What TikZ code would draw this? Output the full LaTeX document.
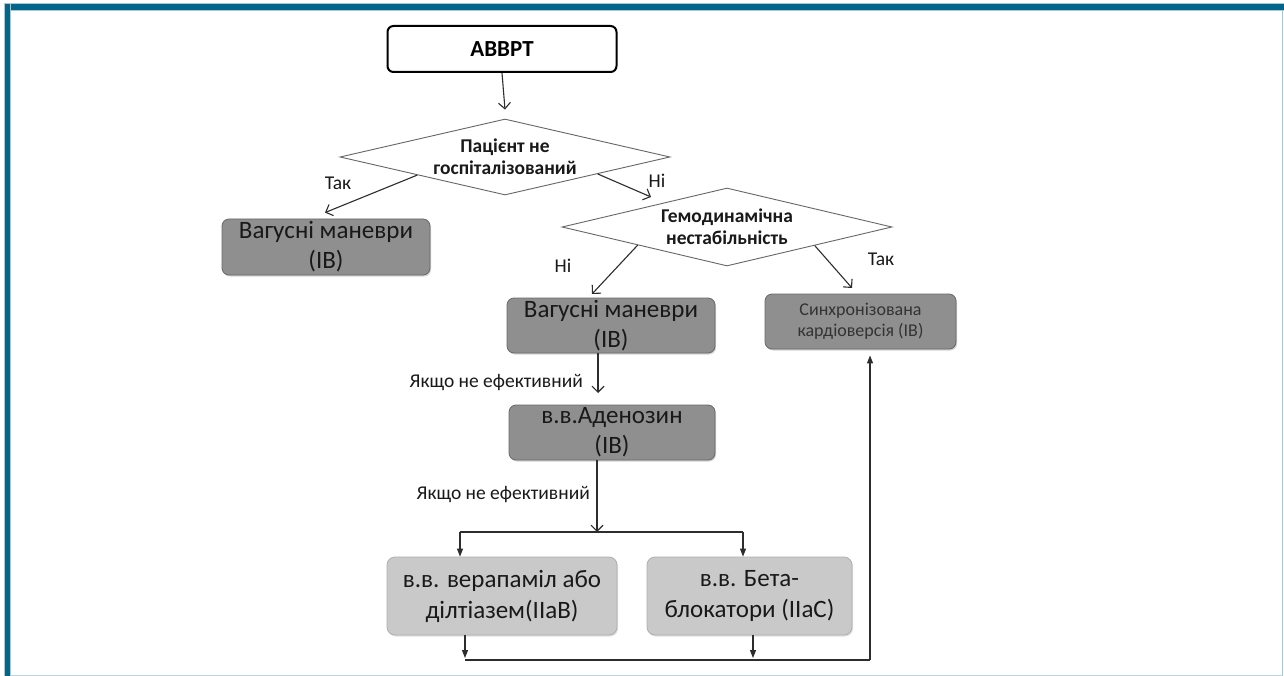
\documentclass[tikz,border=0pt]{standalone}
\usepackage{fontspec}
\setmainfont{Carlito}
\usetikzlibrary{shapes.geometric,arrows.meta,shadows,calc}

\definecolor{frameteal}{RGB}{0,102,139}
\definecolor{frameedge}{RGB}{170,200,210}
\definecolor{boxdark}{RGB}{143,143,143}
\definecolor{boxdarkline}{RGB}{105,105,105}
\definecolor{boxlight}{RGB}{201,201,201}
\definecolor{boxlightline}{RGB}{175,175,175}
\definecolor{inkline}{RGB}{45,45,45}
\definecolor{inktext}{RGB}{25,25,25}

\tikzset{
  startbox/.style={draw=black, line width=2pt, rounded corners=6pt, fill=white,
    minimum width=229pt, minimum height=46pt, inner sep=0pt,
    font=\fontsize{23}{26}\selectfont\bfseries},
  decision/.style={diamond, aspect=4.3, draw=black!60, line width=0.9pt, fill=white,
    inner sep=0pt, align=center, text=inktext,
    font=\fontsize{19.5}{22}\selectfont\bfseries},
  darkbox/.style={rounded corners=7pt, fill=boxdark, draw=boxdarkline, line width=0.8pt,
    drop shadow={shadow xshift=1pt, shadow yshift=-1.5pt, opacity=0.35},
    inner sep=0pt, align=center, text=inktext,
    font=\fontsize{25}{30}\selectfont},
  lightbox/.style={rounded corners=8pt, fill=boxlight, draw=boxlightline, line width=0.8pt,
    drop shadow={shadow xshift=1pt, shadow yshift=-1.5pt, opacity=0.25},
    inner sep=0pt, align=center, text=inktext,
    font=\fontsize{25}{31}\selectfont},
  smallbox/.style={darkbox, font=\fontsize{18}{21}\selectfont, text=black!80},
  flow/.style={draw=inkline, line width=1.1pt},
  openarrow/.style={flow, -{Straight Barb[length=6pt,width=12pt,line width=1.1pt]}},
  fillarrow/.style={flow, -{Triangle[length=8pt,width=6pt]}},
  lbl/.style={font=\fontsize{19.5}{22}\selectfont, text=inktext, inner sep=0pt},
}

\begin{document}
\begin{tikzpicture}[x=1pt, y=-1pt]
  \useasboundingbox (0,0) rectangle (1284,676);

  % page frame
  \fill[white] (0,0) rectangle (1284,676);
  \draw[frameedge, line width=1pt] (1282,10) -- (1282,676);
  \draw[frameedge!80!white, line width=1pt] (10,675) -- (1282,675);
  \fill[frameedge] (3.5,3.5) rectangle (1284,11);
  \fill[frameteal] (4.5,4.5) rectangle (1284,10.5);
  \fill[frameedge] (3.5,3.5) rectangle (11,676);
  \fill[frameteal] (4.5,4.5) rectangle (10.3,676);

  % nodes
  \node[startbox] (start) at (502,49) {АВВРТ};
  \node[decision, minimum width=330pt, minimum height=76pt] (d1) at (505,157)
    {Пацієнт не\\госпіталізований};
  \node[decision, minimum width=330pt, minimum height=78pt] (d2) at (727,227)
    {Гемодинамічна\\нестабільність};
  \node[darkbox, minimum width=208pt, minimum height=56pt] (vag1) at (326,247)
    {Вагусні маневри\\(IB)};
  \node[darkbox, minimum width=208pt, minimum height=55pt] (vag2) at (611,325.5)
    {Вагусні маневри\\(IB)};
  \node[smallbox, minimum width=191pt, minimum height=55pt] (sync) at (860.5,321.5)
    {Синхронізована\\кардіоверсія (IB)};
  \node[darkbox, minimum width=206pt, minimum height=55pt] (aden) at (612,432.5)
    {в.в.Аденозин\\(IB)};
  \node[lightbox, minimum width=230pt, minimum height=78pt] (vera) at (502,596)
    {в.в. верапаміл або\\ділтіазем(IIaB)};
  \node[lightbox, minimum width=205pt, minimum height=78pt] (beta) at (749.5,596)
    {в.в. Бета-\\блокатори (IIaC)};

  % free ends and junctions
  \coordinate (d1tip) at (651,197);
  \coordinate (noTip) at (592,294);
  \coordinate (yesTip) at (852,288);
  \coordinate (vagOut) at (598,353);
  \coordinate (adenTip) at (598,393);
  \coordinate (adenOut) at (597,460);
  \coordinate (split) at (597,532);
  \coordinate (splitL) at (460,532);
  \coordinate (splitR) at (743,532);
  \coordinate (veraOut) at (465,635);
  \coordinate (betaOut) at (753,635);
  \coordinate (joinL) at (465,660);
  \coordinate (joinM) at (753,660);
  \coordinate (joinR) at (870,660);

  % connectors
  \draw[openarrow] (start.south) -- ([yshift=9pt]d1.north);
  \draw[openarrow] ($(d1.west)!0.47!(d1.south)$) -- ([yshift=6pt,xshift=-1pt]vag1.north);
  \draw[openarrow] ($(d1.east)!0.44!(d1.south)$) -- (d1tip);
  \draw[openarrow] ($(d2.west)!0.46!(d2.south)$) -- (noTip);
  \draw[openarrow] ($(d2.east)!0.47!(d2.south)$) -- (yesTip);
  \draw[openarrow] (vagOut) -- (adenTip);
  \draw[openarrow] (adenOut) -- (split);
  \draw[flow] (splitL) -- (splitR);
  \draw[fillarrow] (splitL) -- (splitL |- vera.north);
  \draw[fillarrow] (splitR) -- (splitR |- beta.north);
  \draw[fillarrow] (veraOut) -- ([yshift=2pt]joinL);
  \draw[fillarrow] (betaOut) -- ([yshift=2pt]joinM);
  \draw[flow] (joinL) -- (joinR);
  \draw[fillarrow] (joinR) -- ([yshift=-6pt]joinR |- sync.south);

  % labels
  \node[lbl] (lYes1) at (338,183) {Так};
  \node[lbl] (lNo1) at (657,181) {Ні};
  \node[lbl] (lNo2) at (563,266) {Ні};
  \node[lbl] (lYes2) at (881,259) {Так};
  \node[lbl, anchor=east] (lIf1) at (583,383) {Якщо не ефективний};
  \node[lbl, anchor=east] (lIf2) at (590,495) {Якщо не ефективний};
\end{tikzpicture}
\end{document}
